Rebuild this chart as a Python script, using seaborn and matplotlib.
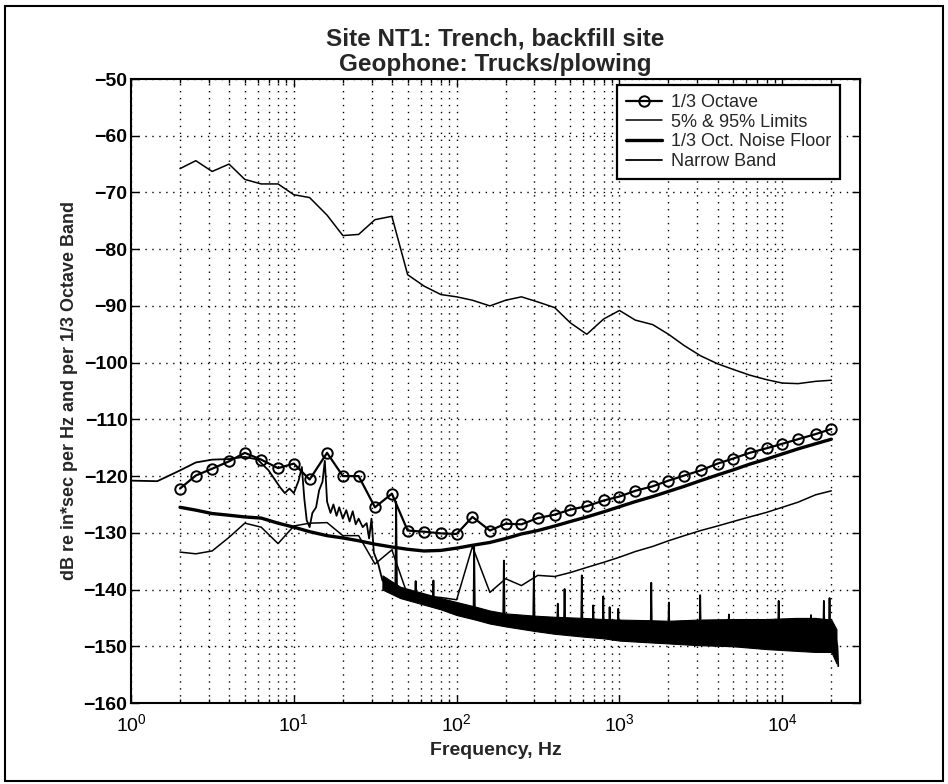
import numpy as np
import pandas as pd
import matplotlib
matplotlib.use("Agg")
import matplotlib.pyplot as plt
import seaborn as sns
from matplotlib.patches import Rectangle
from matplotlib.ticker import LogLocator, NullFormatter

# ---------------- data ----------------
oct_freq = [2, 2.5, 3.15, 4, 5, 6.3, 8, 10, 12.5, 16, 20, 25, 31.5, 40, 50, 63, 80,
            100, 125, 160, 200, 250, 315, 400, 500, 630, 800, 1000, 1250, 1600,
            2000, 2500, 3150, 4000, 5000, 6300, 8000, 10000, 12500, 16000, 20000]

oct_level = [-122.2, -119.9, -118.7, -117.4, -115.9, -117.1, -118.6, -117.8, -120.6,
             -115.9, -120.0, -120.0, -125.5, -123.1, -129.6, -129.8, -130.1, -130.2,
             -127.2, -129.6, -128.4, -128.5, -127.4, -126.8, -125.9, -125.3, -124.3,
             -123.6, -122.6, -121.8, -120.8, -119.9, -119.0, -117.8, -116.9, -115.9,
             -115.1, -114.3, -113.5, -112.6, -111.7]

upper_limit = [-65.8, -64.4, -66.3, -65.0, -67.7, -68.5, -68.5, -70.4, -70.9, -74.0,
               -77.6, -77.4, -74.8, -74.2, -84.5, -86.5, -88.0, -88.4, -89.0, -90.0,
               -89.0, -88.4, -89.3, -90.3, -93.0, -95.0, -92.3, -90.8, -92.5, -93.3,
               -95.0, -97.0, -98.8, -100.2, -101.2, -102.2, -103.0, -103.6, -103.7,
               -103.3, -103.1]

lower_limit = [-133.4, -133.7, -133.2, -130.8, -128.3, -129.0, -131.9, -128.8, -128.3,
               -128.2, -130.5, -130.5, -135.5, -133.0, -141.0, -141.2, -141.4, -141.8,
               -132.4, -140.5, -138.1, -139.3, -137.5, -137.7, -137.0, -136.1, -135.2,
               -134.3, -133.3, -132.4, -131.4, -130.5, -129.6, -128.8, -128.0, -127.2,
               -126.4, -125.5, -124.6, -123.3, -122.6]

noise_floor = [-125.5, -126.0, -126.6, -126.9, -127.2, -127.4, -128.3, -129.0, -129.8,
               -130.5, -130.9, -131.4, -132.0, -132.5, -132.9, -133.2, -133.1, -132.7,
               -132.2, -131.7, -131.0, -130.2, -129.6, -128.8, -128.0, -127.2, -126.3,
               -125.4, -124.5, -123.6, -122.7, -121.8, -120.8, -119.8, -118.9, -117.9,
               -117.0, -116.1, -115.2, -114.3, -113.5]

nb_freq = [1, 1.45, 2, 2.5, 3.15, 4, 5, 6, 7, 8.2, 8.8, 9.4, 10, 10.7, 11.2, 11.6, 12,
           12.5, 13, 13.7, 14.3, 15, 15.5, 16, 16.8, 17.5, 18.3, 19, 20, 21, 22, 23,
           24, 25, 26.5, 28, 29, 30, 31, 33, 35, 37, 39, 42, 42.5, 43, 47, 52, 55.5,
           56, 56.5, 66, 71.5, 72, 72.5, 90, 105, 127, 128, 129.5, 160, 193, 195, 197,
           250, 295, 298, 301, 380, 414, 418, 422, 456, 460, 464, 582, 587, 592, 684,
           690, 696, 789, 795, 801, 864, 870, 876, 976, 983, 990, 1555, 1567, 1580,
           1995, 2010, 2025, 3105, 3130, 3155, 4660, 4700, 4740, 9420, 9500, 9580,
           14880, 15000, 15120, 17850, 18000, 18150, 19350, 19500, 19650, 21000,
           21800, 22050]
nb_level = [-120.8, -120.9, -119.0, -117.6, -117.1, -117.0, -116.6, -117.1, -119.0,
            -121.9, -123.0, -122.2, -123.0, -120.8, -118.4, -124.0, -127.8, -129.0,
            -126.5, -125.5, -122.5, -121.0, -117.3, -124.5, -126.5, -125.0, -127.0,
            -125.5, -127.5, -126.0, -128.0, -126.2, -128.5, -127.5, -129.0, -128.3,
            -131.0, -127.5, -133.5, -135.5, -138.4, -139.0, -139.6, -139.9, -124.5,
            -140.2, -140.8, -141.0, -141.2, -138.5, -141.5, -141.8, -142.0, -138.4,
            -142.2, -143.1, -143.7, -144.2, -132.2, -144.5, -144.9, -145.3, -134.9,
            -145.4, -145.8, -146.0, -136.9, -146.1, -146.0, -146.2, -142.5, -146.2,
            -146.3, -139.9, -146.3, -146.5, -137.5, -146.5, -146.6, -142.8, -146.6,
            -146.7, -141.2, -146.7, -146.8, -143.1, -146.8, -146.9, -143.4, -146.9,
            -147.0, -138.8, -147.0, -147.1, -142.3, -147.2, -147.3, -141.0, -147.3,
            -147.3, -144.4, -147.3, -147.5, -142.0, -147.5, -147.6, -144.5, -147.6,
            -147.6, -142.0, -147.6, -147.7, -141.5, -147.8, -147.5, -150.0, -153.5]

# envelope of the dense narrow-band noise
nb_env_freq = [35, 45, 60, 80, 100, 130, 160, 200, 300, 400, 600, 800, 1000, 1500,
               2000, 3000, 5000, 8000, 12000, 16000, 20000, 21500]
nb_env_hi = [-137.5, -139.5, -140.5, -141.5, -142.2, -143.0, -143.7, -144.2, -144.6,
             -144.8, -145.0, -145.2, -145.3, -145.4, -145.5, -145.3, -145.2, -145.2,
             -145.0, -145.0, -145.3, -147.0]
nb_env_lo = [-140.0, -141.5, -142.5, -143.5, -144.5, -145.3, -146.0, -146.5, -147.3,
             -147.8, -148.3, -148.6, -149.0, -149.3, -149.5, -149.8, -150.0, -150.5,
             -150.8, -151.0, -151.0, -153.0]

title_lines = ["Site NT1: Trench, backfill site", "Geophone: Trucks/plowing"]
x_label = "Frequency, Hz"
y_label = "dB re in*sec per Hz and per 1/3 Octave Band"
legend_labels = ["1/3 Octave", "5% & 95% Limits", "1/3 Oct. Noise Floor", "Narrow Band"]

# ---------------- styling ----------------
sns.set_style("ticks")
plt.rcParams["font.family"] = ["Liberation Sans", "DejaVu Sans"]
plt.rcParams["mathtext.fontset"] = "custom"
plt.rcParams["mathtext.rm"] = "Liberation Sans:bold"
plt.rcParams["mathtext.it"] = "Liberation Sans:bold"
plt.rcParams["mathtext.bf"] = "Liberation Sans:bold"
plt.rcParams["mathtext.default"] = "regular"

W, H = 948, 784
AX_L, AX_R, AX_T, AX_B = 131, 860, 79, 703
fig = plt.figure(figsize=(W / 100, H / 100), dpi=100)
fig.patch.set_facecolor("white")
ax = fig.add_axes([AX_L / W, 1 - AX_B / H, (AX_R - AX_L) / W, (AX_B - AX_T) / H])

oct_df = pd.DataFrame({"f": oct_freq, "oct": oct_level, "hi": upper_limit,
                       "lo": lower_limit, "nf": noise_floor})
nb_df = pd.DataFrame({"f": nb_freq, "nb": nb_level})

# narrow band
ax.fill_between(nb_env_freq, nb_env_lo, nb_env_hi, color="black", lw=0.8, zorder=2)
sns.lineplot(data=nb_df, x="f", y="nb", ax=ax, color="black", lw=1.3, sort=False,
             estimator=None, label=legend_labels[3], zorder=2)
# limits
sns.lineplot(data=oct_df, x="f", y="hi", ax=ax, color="black", lw=1.1, sort=False,
             estimator=None, label=legend_labels[1], zorder=3)
sns.lineplot(data=oct_df, x="f", y="lo", ax=ax, color="black", lw=1.1, sort=False,
             estimator=None, label="_nolegend_", zorder=3)
# noise floor
sns.lineplot(data=oct_df, x="f", y="nf", ax=ax, color="black", lw=2.4, sort=False,
             estimator=None, label=legend_labels[2], zorder=4)
# 1/3 octave
sns.lineplot(data=oct_df, x="f", y="oct", ax=ax, color="black", lw=1.6, sort=False,
             estimator=None, marker="o", markersize=7.5, markerfacecolor="none",
             markeredgecolor="black", markeredgewidth=1.4, label=legend_labels[0],
             zorder=5)

ax.set_xscale("log")
ax.set_xlim(1, 3e4)
ax.set_ylim(-160, -50)
ax.set_yticks(list(range(-160, -49, 10)))
ax.xaxis.set_major_locator(LogLocator(base=10, numticks=10))
ax.xaxis.set_minor_locator(LogLocator(base=10, subs=np.arange(2, 10), numticks=50))
ax.xaxis.set_minor_formatter(NullFormatter())

ax.grid(True, which="major", ls=(0, (1, 4)), color="black", lw=1.0)
ax.grid(True, which="minor", axis="x", ls=(0, (1, 4)), color="black", lw=1.0)
ax.tick_params(which="both", direction="in", top=True, right=True, width=1.0,
               colors="black", labelsize=14)
ax.tick_params(which="major", length=6)
ax.tick_params(which="minor", length=3)
ax.tick_params(axis="x", pad=7)
ax.tick_params(axis="y", pad=2.5)
for lab in ax.get_yticklabels():
    lab.set_fontweight("bold")
for s in ax.spines.values():
    s.set_linewidth(1.5)
    s.set_color("black")

ax.set_xlabel(x_label, fontsize=14, fontweight="bold", labelpad=5)
ax.set_ylabel(y_label, fontsize=13, fontweight="bold", labelpad=4)
ax.set_title("\n".join(title_lines), fontsize=17.5, fontweight="bold", pad=6,
             linespacing=1.1)

handles, labels = ax.get_legend_handles_labels()
order = [labels.index(l) for l in legend_labels]
leg = ax.legend([handles[i] for i in order], [labels[i] for i in order],
                loc="upper left",
                bbox_to_anchor=((617 - AX_L) / (AX_R - AX_L), (AX_B - 85) / (AX_B - AX_T)),
                fontsize=13, frameon=True, fancybox=False, framealpha=1,
                edgecolor="black", handlelength=2.0, borderpad=0.5, labelspacing=0.15,
                handletextpad=0.5, borderaxespad=0.0)
leg.get_frame().set_linewidth(1.6)
leg.set_zorder(10)

# scanned page frame
fig.patches.append(Rectangle((5 / W, 3 / H), 938 / W, 775 / H, transform=fig.transFigure,
                             fill=False, edgecolor="black", lw=1.5))

fig.savefig("out.png", dpi=100, facecolor="white")
